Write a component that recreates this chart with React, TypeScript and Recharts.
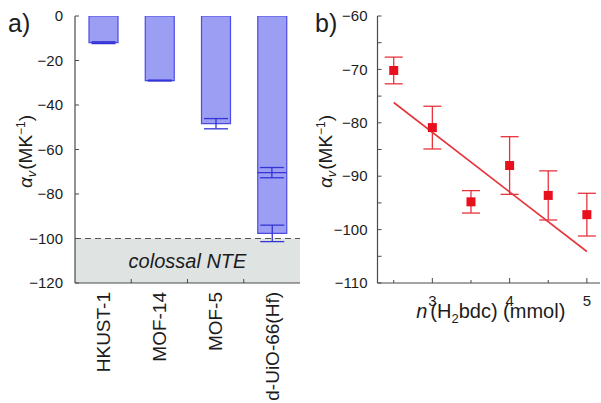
import React from 'react';
import {
  ComposedChart,
  Bar,
  ErrorBar,
  Scatter,
  Line,
  XAxis,
  YAxis,
  ReferenceArea,
  ReferenceLine,
} from 'recharts';

// ---------- Panel a data ----------
const materials = ['HKUST-1', 'MOF-14', 'MOF-5', 'd-UiO-66(Hf)'];
const alphaValues = [-12.0, -29.0, -48.4, -97.7];
const alphaErrors = [0.4, 0.2, 2.3, 3.7];
const secondaryMaterial = 'd-UiO-66(Hf)';
const secondaryValue = -70.4;
const secondaryError = 2.3;
const aYTicks = [0, -20, -40, -60, -80, -100, -120];
const colossalThreshold = -100;
const aYMin = -120;

// ---------- Panel b data ----------
const h2bdcAmounts = [2.5, 3, 3.5, 4, 4.5, 5];
const alphaB = [-70.2, -80.9, -94.8, -88.0, -93.6, -97.2];
const alphaBErr = [2.5, 4.0, 2.1, 5.4, 4.6, 4.0];
const fitX = [2.5, 5];
const fitY = [-76.2, -104.1];
const bYTicks = [-60, -65, -70, -75, -80, -85, -90, -95, -100, -105, -110];
const bXTicks = [2.5, 3, 3.5, 4, 4.5, 5];
const bXMajor = [3, 4, 5];

const barData = materials.map((name, i) => ({ name, value: alphaValues[i], err: alphaErrors[i] }));
const secondaryData = [{ name: secondaryMaterial, mark: secondaryValue, markErr: secondaryError }];
const scatterData = h2bdcAmounts.map((x, i) => ({ x, y: alphaB[i], err: alphaBErr[i] }));
const fitData = fitX.map((x, i) => ({ x, y: fitY[i] }));

const FONT = '"Liberation Sans", Arial, Helvetica, sans-serif';
const AXIS = '#4a4a4a';
const TEXT = '#1c1c1c';
const BAR_FILL = '#9c9ef3';
const BAR_STROKE = '#4a4ae4';
const ERR_BLUE = '#3434d6';
const GRAY = '#dfe4e3';
const RED = '#e8101c';
const RED_ERR = '#e6343c';

const fmt = (v: number) => (v < 0 ? '\u2212' + Math.abs(v) : String(v));

// ---------- Tick renderers ----------
const LeftTickA = (props: any) => {
  const { x, y, payload } = props;
  return (
    <g>
      <line x1={x} x2={x + 4} y1={y} y2={y} stroke={AXIS} />
      <text x={x - 12} y={y} dy="0.35em" textAnchor="end" fontSize={15} fill={TEXT}>
        {fmt(payload.value)}
      </text>
    </g>
  );
};

const BottomTickA = (props: any) => {
  const { x, y, payload, index } = props;
  const half = payload.offset && payload.offset > 0 ? payload.offset : 28;
  const last = index === materials.length - 1;
  return (
    <g>
      {!last && <line x1={x + half} x2={x + half} y1={y} y2={y - 4} stroke={AXIS} />}
      <text
        x={x}
        y={y + 9}
        transform={`rotate(-90, ${x}, ${y + 9})`}
        textAnchor="end"
        dy="0.36em"
        fontSize={19}
        fill={TEXT}
      >
        {payload.value}
      </text>
    </g>
  );
};

const TopTickA = (props: any) => {
  const { x, y, payload, index } = props;
  const half = payload.offset && payload.offset > 0 ? payload.offset : 28;
  const last = index === materials.length - 1;
  if (last) return <g />;
  return <line x1={x + half} x2={x + half} y1={y} y2={y + 4} stroke={AXIS} />;
};

const LeftTickB = (props: any) => {
  const { x, y, payload } = props;
  const major = payload.value % 10 === 0;
  return (
    <g>
      <line x1={x} x2={x + 4} y1={y} y2={y} stroke={AXIS} />
      {major && (
        <text x={x - 10} y={y} dy="0.35em" textAnchor="end" fontSize={15} fill={TEXT}>
          {fmt(payload.value)}
        </text>
      )}
    </g>
  );
};

const RightTickB = (props: any) => {
  const { x, y } = props;
  return <line x1={x} x2={x - 4} y1={y} y2={y} stroke={AXIS} />;
};

const BottomTickB = (props: any) => {
  const { x, y, payload } = props;
  const major = bXMajor.includes(payload.value);
  return (
    <g>
      <line x1={x} x2={x} y1={y} y2={y - (major ? 5 : 3)} stroke={AXIS} />
      {major && (
        <text x={x} y={y + 12} dy="0.71em" textAnchor="middle" fontSize={15} fill={TEXT}>
          {payload.value}
        </text>
      )}
    </g>
  );
};

const TopTickB = (props: any) => {
  const { x, y } = props;
  return <line x1={x} x2={x} y1={y} y2={y + 5} stroke={AXIS} />;
};

// ---------- Labels ----------
const makeYLabel = (dxFromAxis: number) => (props: any) => {
  const vb = props.viewBox || {};
  const cx = vb.x + dxFromAxis;
  const cy = vb.y + vb.height / 2 + 2;
  return (
    <text
      x={cx}
      y={cy}
      transform={`rotate(-90, ${cx}, ${cy})`}
      textAnchor="middle"
      fontSize={19}
      fill={TEXT}
    >
      <tspan fontStyle="italic">α</tspan>
      <tspan fontStyle="italic" fontSize={13} dy={4}>v</tspan>
      <tspan dy={-4} dx={1}>(MK</tspan>
      <tspan fontSize={12} dy={-7}>{'\u2212'}1</tspan>
      <tspan dy={7}>)</tspan>
    </text>
  );
};

const XLabelB = (props: any) => {
  const vb = props.viewBox || {};
  const cx = vb.x + vb.width / 2 + 2;
  const cy = vb.y + 35;
  return (
    <text x={cx} y={cy} textAnchor="middle" fontSize={20} fill={TEXT}>
      <tspan fontStyle="italic">n</tspan>
      <tspan dx={3}>(H</tspan>
      <tspan fontSize={13} dy={5}>2</tspan>
      <tspan dy={-5}>bdc) (mmol)</tspan>
    </text>
  );
};

const ColossalLabel = (props: any) => {
  const vb = props.viewBox || {};
  return (
    <text
      x={vb.x + vb.width / 2}
      y={vb.y + vb.height / 2}
      dy="0.36em"
      textAnchor="middle"
      fontSize={20}
      fontStyle="italic"
      fill={TEXT}
    >
      colossal NTE
    </text>
  );
};

const HMark = (props: any) => {
  const { cx, cy } = props;
  return <line x1={cx - 14.5} x2={cx + 14.5} y1={cy} y2={cy} stroke={ERR_BLUE} strokeWidth={1.4} />;
};

const SquareMark = (props: any) => {
  const { cx, cy } = props;
  return <rect x={cx - 4.5} y={cy - 4.5} width={9} height={9} fill={RED} />;
};

export default function App() {
  return (
    <div
      style={{
        position: 'absolute',
        left: 0,
        top: 0,
        width: 601,
        height: 403,
        overflow: 'hidden',
        background: '#ffffff',
        fontFamily: FONT,
      }}
    >
      <div style={{ position: 'absolute', left: 8, top: 8, fontSize: 25, color: TEXT, lineHeight: '30px' }}>a)</div>
      <div style={{ position: 'absolute', left: 315, top: 8, fontSize: 25, color: TEXT, lineHeight: '30px' }}>b)</div>

      <div style={{ position: 'absolute', left: 0, top: 0 }}>
        <ComposedChart
          width={310}
          height={403}
          data={barData}
          margin={{ top: 16, right: 10, bottom: 0, left: 15 }}
          barCategoryGap="48%"
        >
          <ReferenceArea y1={aYMin} y2={colossalThreshold} fill={GRAY} fillOpacity={1} stroke="none" label={ColossalLabel} />
          <ReferenceLine y={colossalThreshold} stroke="#555" strokeDasharray="6 4" strokeWidth={1} />
          <XAxis
            dataKey="name"
            type="category"
            allowDuplicatedCategory={false}
            height={120}
            interval={0}
            tickSize={0}
            tickMargin={0}
            tickLine={false}
            axisLine={{ stroke: AXIS, strokeWidth: 1.2 }}
            tick={BottomTickA}
          />
          <XAxis
            xAxisId="top"
            dataKey="name"
            type="category"
            orientation="top"
            allowDuplicatedCategory={false}
            height={0}
            interval={0}
            tickSize={0}
            tickMargin={0}
            tickLine={false}
            axisLine={{ stroke: AXIS, strokeWidth: 1.2 }}
            tick={TopTickA}
          />
          <YAxis
            type="number"
            domain={[aYMin, 0]}
            ticks={aYTicks}
            allowDataOverflow
            width={60}
            interval={0}
            tickSize={0}
            tickMargin={0}
            tickLine={false}
            axisLine={{ stroke: AXIS, strokeWidth: 1.2 }}
            tick={LeftTickA}
            label={makeYLabel(17)}
          />
          <YAxis
            yAxisId="right"
            orientation="right"
            type="number"
            domain={[aYMin, 0]}
            allowDataOverflow
            width={0}
            tick={false}
            tickLine={false}
            axisLine={{ stroke: AXIS, strokeWidth: 1.2 }}
          />
          <Bar dataKey="value" fill={BAR_FILL} stroke={BAR_STROKE} strokeWidth={1.2} barSize={29} isAnimationActive={false}>
            <ErrorBar dataKey="err" direction="y" width={12} stroke={ERR_BLUE} strokeWidth={1.3} />
          </Bar>
          <Scatter data={secondaryData} dataKey="mark" shape={HMark} isAnimationActive={false}>
            <ErrorBar dataKey="markErr" direction="y" width={12} stroke={ERR_BLUE} strokeWidth={1.3} />
          </Scatter>
        </ComposedChart>
      </div>

      <div style={{ position: 'absolute', left: 300, top: 0 }}>
        <ComposedChart width={301} height={403} margin={{ top: 16, right: 1, bottom: 0, left: 17.5 }}>
          <XAxis
            dataKey="x"
            type="number"
            domain={[2.29, 5.17]}
            ticks={bXTicks}
            allowDataOverflow
            height={120}
            interval={0}
            tickSize={0}
            tickMargin={0}
            tickLine={false}
            axisLine={{ stroke: AXIS, strokeWidth: 1.2 }}
            tick={BottomTickB}
            label={XLabelB}
          />
          <XAxis
            xAxisId="top"
            dataKey="x"
            type="number"
            orientation="top"
            domain={[2.29, 5.17]}
            ticks={bXMajor}
            allowDataOverflow
            height={0}
            interval={0}
            tickSize={0}
            tickMargin={0}
            tickLine={false}
            axisLine={{ stroke: AXIS, strokeWidth: 1.2 }}
            tick={TopTickB}
          />
          <YAxis
            type="number"
            domain={[-110, -60]}
            ticks={bYTicks}
            allowDataOverflow
            width={60}
            interval={0}
            tickSize={0}
            tickMargin={0}
            tickLine={false}
            axisLine={{ stroke: AXIS, strokeWidth: 1.2 }}
            tick={LeftTickB}
            label={makeYLabel(14.5)}
          />
          <YAxis
            yAxisId="right"
            orientation="right"
            type="number"
            domain={[-110, -60]}
            ticks={bYTicks}
            allowDataOverflow
            width={0}
            interval={0}
            tickSize={0}
            tickMargin={0}
            tickLine={false}
            axisLine={{ stroke: AXIS, strokeWidth: 1.2 }}
            tick={RightTickB}
          />
          <Line
            data={fitData}
            dataKey="y"
            type="linear"
            stroke={RED_ERR}
            strokeWidth={1.6}
            dot={false}
            activeDot={false}
            isAnimationActive={false}
          />
          <Scatter data={scatterData} dataKey="y" shape={SquareMark} isAnimationActive={false}>
            <ErrorBar dataKey="err" direction="y" width={9} stroke={RED_ERR} strokeWidth={1.3} />
          </Scatter>
        </ComposedChart>
      </div>
    </div>
  );
}
